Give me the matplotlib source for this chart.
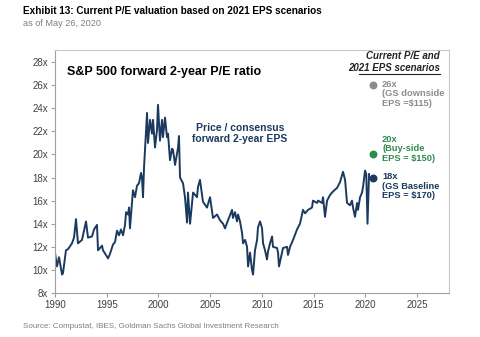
import matplotlib
matplotlib.use("Agg")
import matplotlib.pyplot as plt

# ==========================================================
# DATA
# ==========================================================

# S&P 500 price / consensus forward 2-year EPS (decimal year, multiple)
years = [
    1990.00, 1990.19, 1990.39, 1990.68, 1990.77, 1991.06, 1991.26, 1991.64,
    1991.84, 1992.03, 1992.22, 1992.61, 1993.00, 1993.19, 1993.58, 1993.77,
    1994.06, 1994.16, 1994.35, 1994.55, 1994.64, 1995.13, 1995.32, 1995.61,
    1995.80, 1996.00, 1996.19, 1996.38, 1996.58, 1996.77, 1996.87, 1997.06,
    1997.16, 1997.25, 1997.45, 1997.54, 1997.74, 1997.93, 1998.12, 1998.32,
    1998.41, 1998.51, 1998.61, 1998.90, 1998.99, 1999.19, 1999.38, 1999.48,
    1999.67, 1999.86, 1999.96, 2000.15, 2000.35, 2000.44, 2000.64, 2000.83,
    2000.93, 2001.12, 2001.32, 2001.41, 2001.61, 2001.90, 2001.99, 2002.09,
    2002.38, 2002.57, 2002.77, 2002.86, 2003.06, 2003.35, 2003.73, 2003.83,
    2004.02, 2004.31, 2004.70, 2004.99, 2005.28, 2005.67, 2005.96, 2006.25,
    2006.44, 2006.73, 2007.12, 2007.21, 2007.41, 2007.60, 2007.70, 2007.89,
    2008.09, 2008.18, 2008.38, 2008.57, 2008.67, 2008.86, 2009.05, 2009.15,
    2009.34, 2009.54, 2009.63, 2009.83, 2010.02, 2010.12, 2010.31, 2010.50,
    2010.60, 2010.79, 2010.99, 2011.08, 2011.47, 2011.57, 2011.66, 2011.95,
    2012.05, 2012.44, 2012.53, 2012.73, 2013.02, 2013.40, 2013.69, 2013.98,
    2014.18, 2014.47, 2014.85, 2014.95, 2015.34, 2015.44, 2015.82, 2015.92,
    2016.11, 2016.31, 2016.60, 2016.89, 2017.27, 2017.56, 2017.85, 2018.05,
    2018.24, 2018.53, 2018.72, 2018.82, 2019.01, 2019.21, 2019.30, 2019.50,
    2019.69, 2019.79, 2019.98, 2020.10, 2020.22, 2020.37,
]
pe_ratio = [
    11.5, 10.3, 11.1, 9.6, 9.7, 11.7, 11.8, 12.3,
    12.8, 14.4, 12.3, 12.6, 14.2, 12.8, 12.9, 13.5,
    13.9, 11.7, 11.9, 12.1, 11.7, 11.0, 11.4, 12.2,
    12.4, 13.4, 13.0, 13.5, 13.0, 13.9, 15.0, 14.8,
    15.4, 13.6, 15.8, 16.9, 16.3, 17.3, 17.5, 18.4,
    18.0, 16.3, 18.9, 23.6, 21.0, 23.0, 21.8, 23.0,
    20.6, 22.1, 24.3, 21.2, 23.0, 21.5, 23.2, 21.5,
    21.8, 19.5, 20.5, 20.4, 19.1, 20.6, 21.6, 18.0,
    17.5, 16.3, 14.1, 16.7, 14.0, 16.7, 16.3, 17.2,
    17.8, 15.9, 15.4, 16.3, 14.5, 14.8, 14.3, 14.0,
    13.6, 14.3, 15.2, 14.5, 15.0, 14.2, 14.8, 14.2,
    13.2, 12.3, 12.6, 12.0, 10.3, 11.5, 10.0, 9.6,
    11.7, 12.6, 13.7, 14.2, 13.6, 12.3, 11.7, 10.9,
    11.6, 12.3, 12.9, 12.0, 11.9, 11.5, 10.3, 11.5,
    11.9, 12.0, 11.3, 12.0, 12.6, 13.5, 14.0, 15.2,
    14.9, 15.2, 15.4, 16.0, 15.8, 16.0, 15.8, 16.3,
    14.6, 16.0, 16.5, 16.8, 17.1, 17.6, 18.5, 17.8,
    15.8, 15.6, 16.0, 15.4, 14.6, 15.8, 15.2, 16.3,
    16.7, 17.2, 18.6, 18.3, 14.0, 18.3,
]

# Current P/E under the 2021 EPS scenarios
scenario_year = 2020.75
scenario_pe = [26, 20, 18]
scenario_labels = [
    "26x\n(GS downside\nEPS =$115)",
    "20x\n(Buy-side\nEPS = $150)",
    "18x\n(GS Baseline\nEPS = $170)",
]
scenario_colors = ["#8c8c8c", "#2f8a4e", "#1b3a5e"]
scenario_text_offsets = [(6.5, 4), (6.5, 4), (6.5, 4)]
scenario_text_va = ["top", "center", "top"]

y_ticks = list(range(8, 30, 2))
x_ticks = list(range(1990, 2030, 5))

LINE_COLOR = "#1b3a5e"
narrow = ["Liberation Sans Narrow", "Liberation Sans", "DejaVu Sans"]
plt.rcParams["font.family"] = ["Liberation Sans", "DejaVu Sans"]

# ==========================================================
# PLOT
# ==========================================================

fig = plt.figure(figsize=(4.8, 3.37), dpi=100)
ax = fig.add_axes([55 / 480, 1 - 293 / 337, 394 / 480, 243 / 337])

ax.plot(years, pe_ratio, color=LINE_COLOR, linewidth=1.4)

for pe, label, color, off, va in zip(scenario_pe, scenario_labels,
                                     scenario_colors, scenario_text_offsets,
                                     scenario_text_va):
    ax.scatter([scenario_year], [pe], s=22, color=color, zorder=3)
    ax.annotate(label, (scenario_year, pe), xytext=off,
                textcoords="offset points", ha="left", va=va,
                fontsize=6.7, fontweight="bold", color=color, linespacing=1.1)

ax.set_xlim(1990, 2028.1)
ax.set_ylim(8, 29.05)
ax.set_xticks(x_ticks)
ax.set_yticks(y_ticks)
ax.set_yticklabels([f"{t}x" for t in y_ticks])
ax.tick_params(labelsize=7, colors="#404040", length=3, width=0.8,
               pad=2, color="#a0a0a0")

for side in ["left", "bottom"]:
    ax.spines[side].set_color("#a0a0a0")
for side in ["top", "right"]:
    ax.spines[side].set_color("#c8c8c8")

ax.text(0.03, 0.91, "S&P 500 forward 2-year P/E ratio", transform=ax.transAxes,
        fontsize=9, fontweight="bold", color="black", va="center")
ax.text(2007.9, 21.85, "Price / consensus\nforward 2-year EPS", ha="center",
        va="center", fontsize=7.5, fontweight="bold", color=LINE_COLOR,
        linespacing=1.1)

ax.text(0.976, 0.975, "Current P/E and", transform=ax.transAxes,
        ha="right", va="center", fontsize=7, fontweight="bold",
        style="italic", color="#222222")
ax.text(0.976, 0.925, "2021 EPS scenarios", transform=ax.transAxes,
        ha="right", va="center", fontsize=7, fontweight="bold",
        style="italic", color="#222222")
ax.plot([0.772, 0.976], [0.9, 0.9], transform=ax.transAxes, color="#222222",
        linewidth=0.8, clip_on=False)

fig.text(23 / 480, 1 - 11 / 337, "Exhibit 13: Current P/E valuation based on 2021 EPS scenarios",
         family=narrow, fontsize=7.2, fontweight="bold", color="black", va="center")
fig.text(23 / 480, 1 - 23 / 337, "as of May 26, 2020", family=narrow,
         fontsize=6.6, color="#7f7f7f", va="center")
fig.text(23 / 480, 1 - 326 / 337,
         "Source: Compustat, IBES, Goldman Sachs Global Investment Research",
         family=narrow, fontsize=5.8, color="#7f7f7f", va="center")

# ==========================================================
# SAVE
# ==========================================================

fig.savefig("out.png", dpi=100)
